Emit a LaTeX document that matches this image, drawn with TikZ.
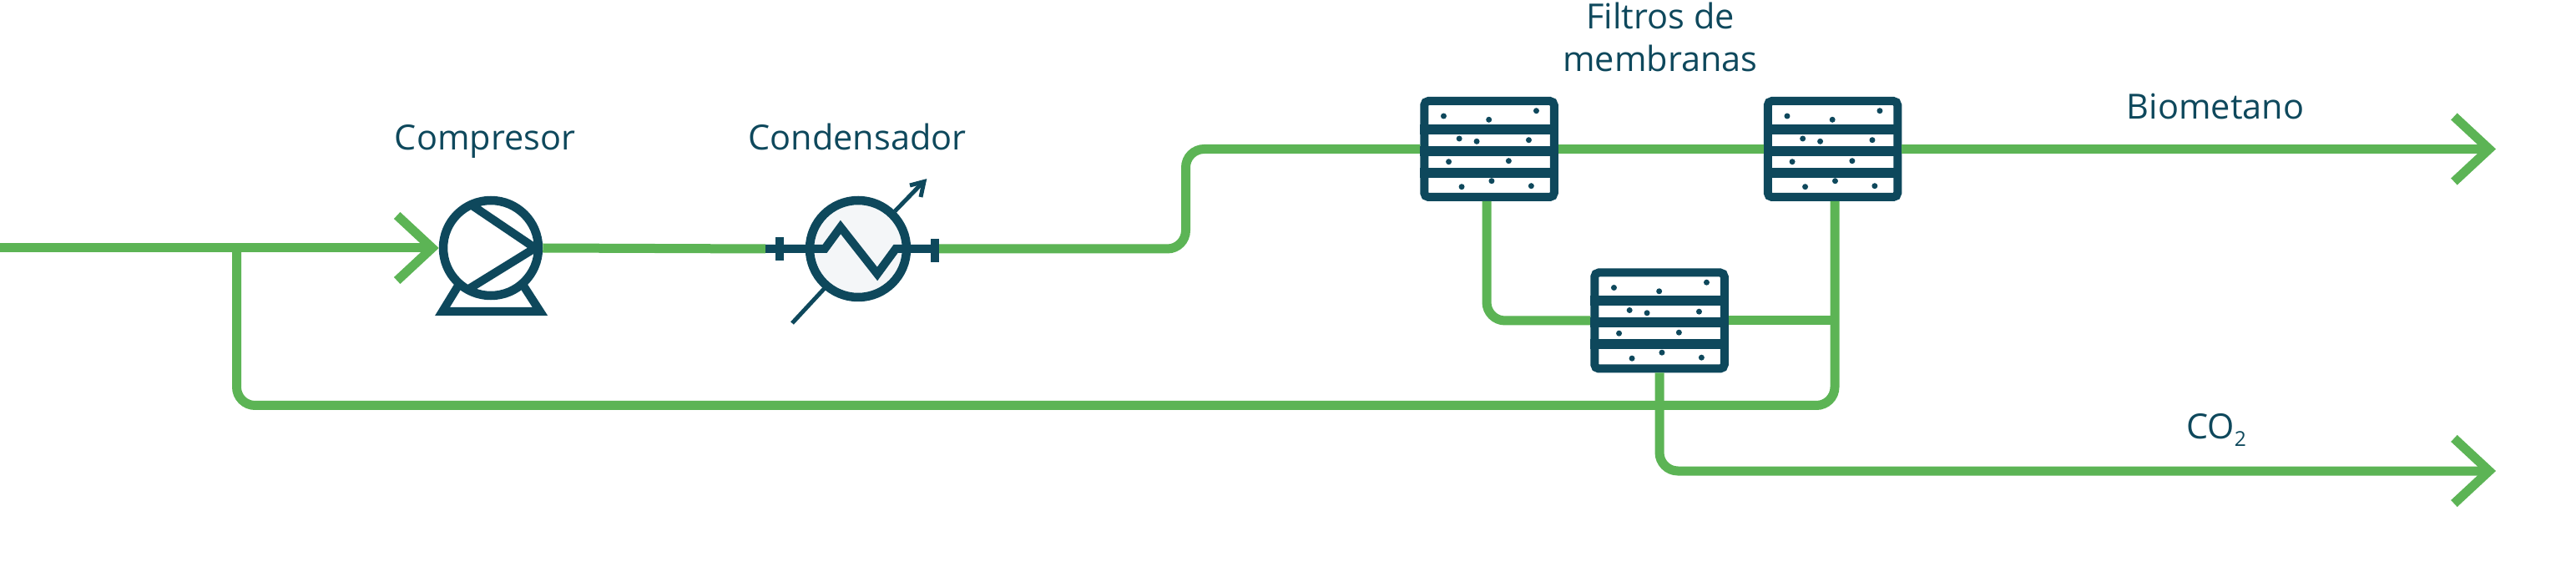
\documentclass[tikz,border=0pt]{standalone}
\usepackage{fontspec}
\setmainfont{Open Sans}
\usepackage{xcolor}
\definecolor{plantteal}{RGB}{14,72,92}
\definecolor{plantgreen}{RGB}{92,180,85}
\definecolor{plantshell}{RGB}{244,246,248}
\usetikzlibrary{arrows.meta, positioning}
\tikzset{
  flow/.style={draw=plantgreen, line width=0.11cm, rounded corners=0.22cm},
  flowout/.style={flow, -{Straight Barb[length=0.42cm, width=0.78cm, line join=miter]}},
  unitring/.style={circle, draw=plantteal, line width=0.105cm, minimum size=1.14cm, inner sep=0pt},
  unitline/.style={draw=plantteal, line width=0.1cm},
  membrane/.style={rectangle, draw=plantteal, fill=white, line width=0.1cm, rounded corners=0.05cm, minimum width=1.555cm, minimum height=1.15cm, inner sep=0pt},
  tag/.style={font=\fontsize{11.8pt}{14.5pt}\selectfont, text=plantteal, anchor=base, inner sep=0pt, align=center}
}
\begin{document}
\begin{tikzpicture}
  \useasboundingbox (0,0) rectangle (30.86,6.84);

  % Units
  \node[unitring] (comp) at (5.88,3.87) {};
  \node[unitring, fill=plantshell, minimum size=1.16cm] (cond) at (10.28,3.86) {};
  \node[membrane] (filtA) at (17.84,5.055) {};
  \node[membrane] (filtB) at (21.955,5.055) {};
  \node[membrane] (filtC) at (19.88,3.00) {};

  % Free ends of the lines
  \coordinate (inlet) at (0,3.87);
  \coordinate (flangeW) at (9.17,3.86);
  \coordinate (flangeE) at (11.2,3.86);
  \coordinate (riser) at (14.205,5.055);
  \coordinate (biogas) at (29.9,5.055);
  \coordinate (cotwo) at (29.9,1.2);
  \coordinate (recycle) at (2.835,1.985);
  \coordinate (tee) at (21.98,3.00);

  % Process lines
  \draw[flowout] (inlet) -- (comp.west);
  \draw[flow] (comp.east) -- (flangeW);
  \draw[flow] (flangeE) -| (riser) -- (filtA.west);
  \draw[flow] (filtA.east) -- (filtB.west);
  \draw[flowout] (filtB.east) -- (biogas);
  \draw[flow] ([xshift=-0.03cm]filtA.south) |- (filtC.west);
  \draw[flow] (filtC.east) -- (tee);
  \draw[flow] ([xshift=0.025cm]filtB.south) |- (recycle) -- (recycle |- inlet);
  \draw[flowout] (filtC.south) |- (cotwo);

  % Compressor
  \draw[unitline, line join=round] (5.64,4.39) -- (6.41,3.87) -- (5.60,3.37);
  \draw[draw=plantteal, line width=0.1cm, line join=miter] (5.49,3.42) -- (5.30,3.11) -- (6.47,3.11) -- (6.27,3.42);

  % Condenser
  \draw[plantteal, line width=0.05cm] (9.49,2.97) -- (9.88,3.39);
  \draw[plantteal, line width=0.05cm] (10.72,4.31) -- (11.05,4.65);
  \draw[plantteal, line width=0.05cm, line join=miter] (10.90,4.62) -- (11.07,4.665) -- (11.03,4.48);
  \draw[plantteal, line width=0.1cm, line join=miter] (flangeW) -- (9.88,3.86) -- (10.07,4.12) -- (10.51,3.56) -- (10.73,3.86) -- (flangeE);
  \draw[plantteal, line width=0.105cm] (9.34,4.00) -- (9.34,3.72);
  \draw[plantteal, line width=0.1cm] (11.2,3.98) -- (11.2,3.70);

  % Membrane filters
  \foreach \f in {filtA,filtB,filtC}{
    \begin{scope}[shift={(\f.north west)}]
      \fill[plantteal] (0,-0.33) rectangle (1.655,-0.45);
      \fill[plantteal] (0,-0.59) rectangle (1.655,-0.71);
      \fill[plantteal] (0,-0.85) rectangle (1.655,-0.97);
      \foreach \dx/\dy in {0.282/0.23, 0.824/0.273, 1.392/0.167,
                           0.469/0.50, 0.678/0.533, 1.302/0.517,
                           0.343/0.777, 1.061/0.767,
                           0.498/1.077, 0.857/1.007, 1.331/1.067}
        \fill[plantteal] (\dx,-\dy) circle (0.035);
    \end{scope}
  }

  % Labels
  \node[tag] (lblComp) at (5.81,5.04) {Compresor};
  \node[tag] (lblCond) at (10.27,5.04) {Condensador};
  \node[tag] (lblFiltA) at (19.89,6.49) {Filtros de};
  \node[tag] (lblFiltB) at (19.89,5.98) {membranas};
  \node[tag] (lblBio) at (26.54,5.41) {Biometano};
  \node[tag] (lblCo) at (26.55,1.59) {CO\raisebox{-2.8pt}{\fontsize{7pt}{8pt}\selectfont 2}};
\end{tikzpicture}
\end{document}
